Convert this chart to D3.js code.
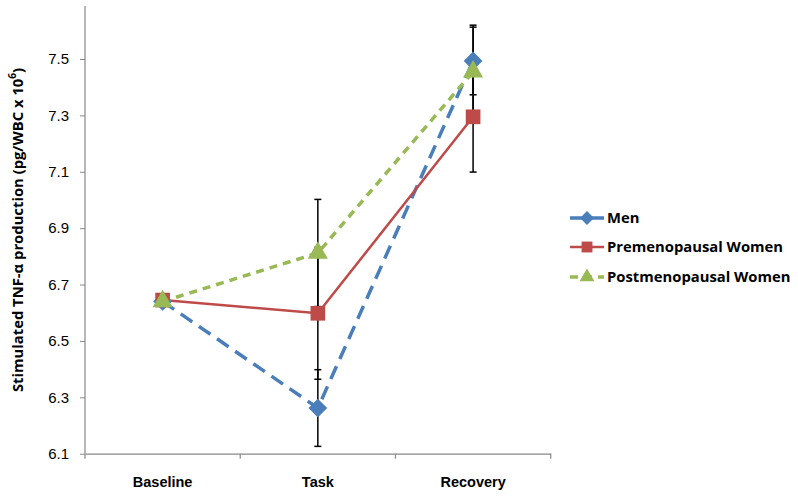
<!DOCTYPE html>
<html><head><meta charset="utf-8">
<script src="https://cdn.jsdelivr.net/npm/d3@7/dist/d3.min.js"></script>
<style>
body{margin:0;background:#fff;}
svg{display:block;font-family:"Open Sans","Liberation Sans",sans-serif;}
</style></head>
<body><svg id="c" width="798" height="496"></svg>
<script>
const categories = ["Baseline", "Task", "Recovery"];
const seriesNames = ["Men", "Premenopausal Women", "Postmenopausal Women"];
const menValues = [6.64, 6.262, 7.493];
const preValues = [6.645, 6.598, 7.295];
const postValues = [6.64, 6.812, 7.455];
const menErr = [0, 0.136, 0.12];
const preErr = [0, 0.234, 0.196];
const postErr = [0, 0.19, 0.165];
const yTicks = [6.1, 6.3, 6.5, 6.7, 6.9, 7.1, 7.3, 7.5];

const svg = d3.select("#c");
const y = d3.scaleLinear().domain([6.1, 7.688]).range([453.7, 6]);
const x = d3.scaleBand().domain(categories).range([85, 550.7]).padding(0);
const cx = c => x(c) + x.bandwidth() / 2;

const diamond = {draw(ctx, size){const r = Math.sqrt(size / 2); ctx.moveTo(0, -r); ctx.lineTo(r, 0); ctx.lineTo(0, r); ctx.lineTo(-r, 0); ctx.closePath();}};

const series = [
  {name: seriesNames[0], vals: menValues, err: menErr, color: "#4A7EBB", dash: "14,8", width: 3.5, sym: diamond, size: 175},
  {name: seriesNames[1], vals: preValues, err: preErr, color: "#BE4B48", dash: null, width: 2.5, sym: d3.symbolSquare, size: 215},
  {name: seriesNames[2], vals: postValues, err: postErr, color: "#98B954", dash: "8,6", width: 3.5, sym: d3.symbolTriangle, size: 175}
];

// axes
const axisColor = "#888";
const yAxis = svg.append("g").attr("transform", "translate(85,0)")
  .call(d3.axisLeft(y).tickValues(yTicks).tickFormat(d3.format(".1f")).tickSize(5).tickSizeOuter(0));
yAxis.select(".domain").remove();
yAxis.selectAll(".tick line").attr("stroke", axisColor);
yAxis.selectAll("text").attr("font-size", 15).attr("fill", "#000").attr("x", -16);
svg.append("line").attr("x1", 85).attr("x2", 85).attr("y1", y.range()[1]).attr("y2", y(6.1)).attr("stroke", axisColor).attr("stroke-width", 1.2);

const xAxis = svg.append("g").attr("transform", `translate(0,${y(6.1)})`)
  .call(d3.axisBottom(x).tickSize(0).tickSizeOuter(0));
xAxis.select(".domain").attr("stroke", axisColor).attr("stroke-width", 1.2);
xAxis.selectAll("text").attr("font-size", 14.5).attr("font-weight", "bold").attr("fill", "#000").attr("dy", 0).attr("y", 33);
const bounds = categories.map(c => x(c)).concat([x.range()[1]]);
svg.append("g").selectAll("line").data(bounds).join("line")
  .attr("x1", d => d).attr("x2", d => d).attr("y1", y(6.1)).attr("y2", y(6.1) + 5)
  .attr("stroke", axisColor).attr("stroke-width", 1.2);

// y title
const yt = svg.append("text").attr("transform", `translate(23,230) rotate(-90)`)
  .attr("text-anchor", "middle").attr("font-size", 14.8).attr("font-weight", "bold");
yt.append("tspan").text("Stimulated TNF-α production (pg/WBC x 10");
yt.append("tspan").attr("baseline-shift", "super").attr("font-size", 10).text("6");
yt.append("tspan").text(")");

// error bars
series.forEach(s => {
  const g = svg.append("g");
  categories.forEach((c, i) => {
    if (!s.err[i]) return;
    const lo = y(s.vals[i] - s.err[i]), hi = y(s.vals[i] + s.err[i]);
    g.append("line").attr("x1", cx(c)).attr("x2", cx(c)).attr("y1", lo).attr("y2", hi).attr("stroke", "#000").attr("stroke-width", 1.5);
    [lo, hi].forEach(yy => g.append("line").attr("x1", cx(c) - 3.5).attr("x2", cx(c) + 3.5).attr("y1", yy).attr("y2", yy).attr("stroke", "#000").attr("stroke-width", 1.5));
  });
});

// lines and markers
const line = d3.line().x((d, i) => cx(categories[i])).y(d => y(d));
series.forEach(s => {
  svg.append("path").datum(s.vals).attr("d", line).attr("fill", "none")
    .attr("stroke", s.color).attr("stroke-width", s.width).attr("stroke-dasharray", s.dash);
});
series.forEach(s => {
  svg.append("g").selectAll("path").data(s.vals).join("path")
    .attr("transform", (d, i) => `translate(${cx(categories[i])},${y(d)})`)
    .attr("d", d3.symbol().type(s.sym).size(s.size)).attr("fill", s.color);
});

// legend
const legY = [218, 247, 277];
series.forEach((s, i) => {
  const g = svg.append("g").attr("transform", `translate(570,${legY[i]})`);
  g.append("line").attr("x1", 0).attr("x2", 34).attr("y1", 0).attr("y2", 0)
    .attr("stroke", s.color).attr("stroke-width", s.width).attr("stroke-dasharray", s.dash);
  g.append("path").attr("transform", "translate(17,0)").attr("d", d3.symbol().type(s.sym).size(s.size * 0.55)).attr("fill", s.color);
  g.append("text").attr("x", 37).attr("y", 5).attr("font-size", 14.8).attr("font-weight", "bold").text(s.name);
});
</script></body></html>
